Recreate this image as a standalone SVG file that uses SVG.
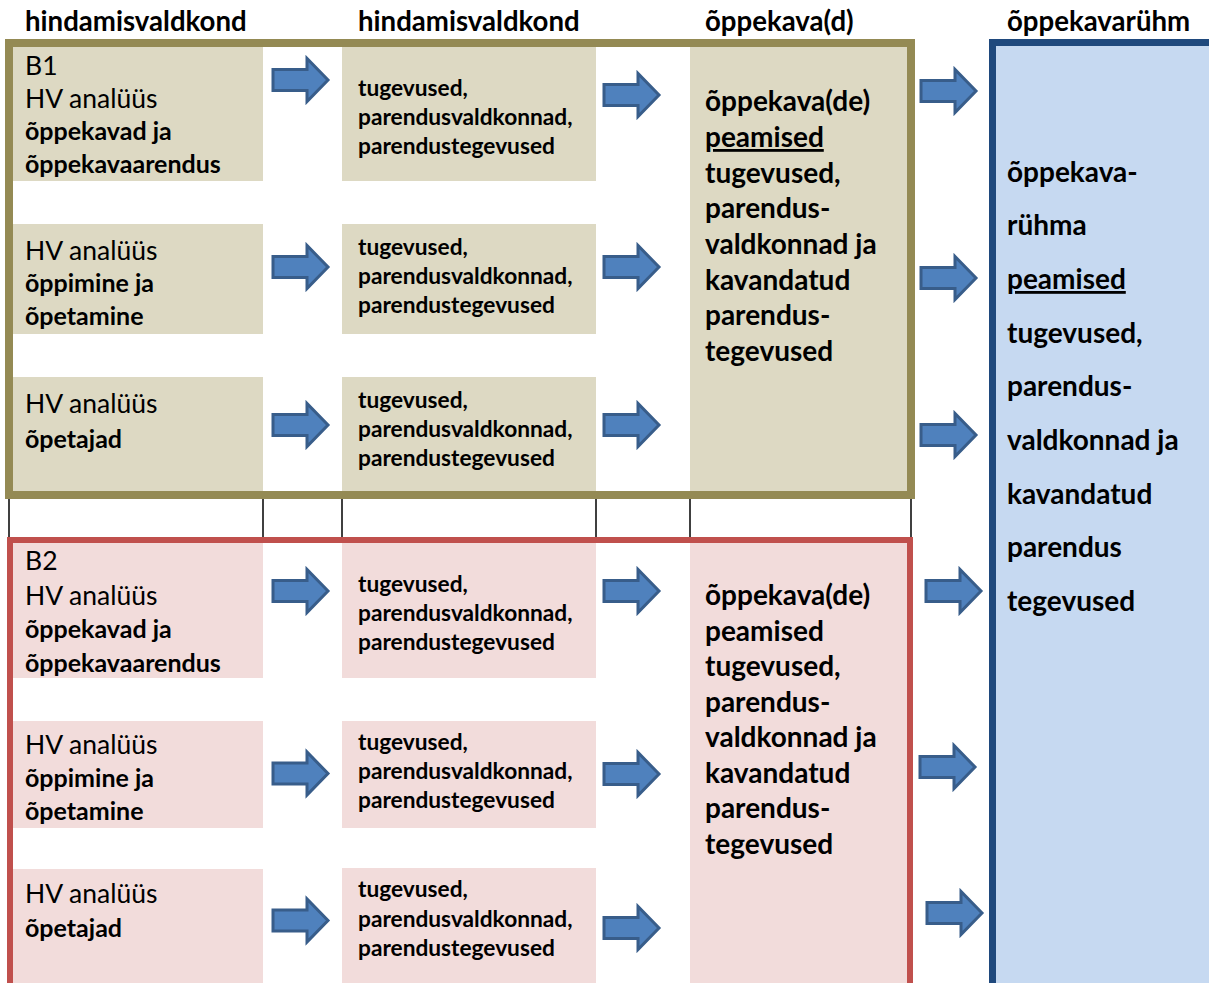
<svg xmlns="http://www.w3.org/2000/svg" xmlns:xlink="http://www.w3.org/1999/xlink" width="1209" height="983" viewBox="0 0 1209 983">
<style>
text{font-family:Lato,"Open Sans","Liberation Sans",sans-serif;fill:#000}
.h{font-size:27.6px;font-weight:700}
.r{font-size:26.5px;font-weight:400}
.b{font-size:25px;font-weight:700}
.s{font-size:22.7px;font-weight:700}
.m{font-size:28px;font-weight:700}
.u{text-decoration:underline}
.of{fill:#DDD9C3}
.rf{fill:#F2DCDB}
.sep{stroke:#000;stroke-width:1.5}
.arr{fill:#4F81BD;stroke:#385D8A;stroke-width:3;stroke-linejoin:miter}
</style>
<defs>
<path id="arrow" class="arr" d="M0,-10.5 H34 V-21.5 L55,0 L34,21.5 V10.5 H0 Z"/>
</defs>
<rect width="1209" height="983" fill="#fff"/>

<g id="headers">
<text class="h" x="25" y="31">hindamisvaldkond</text>
<text class="h" x="358" y="31">hindamisvaldkond</text>
<text class="h" x="705" y="31">õppekava(d)</text>
<text class="h" x="1007" y="31">õppekavarühm</text>
</g>

<g id="group-col4">
<rect x="992.5" y="42.5" width="300" height="1000" fill="#C6D9F1" stroke="#1F497D" stroke-width="7"/>
<text class="m" x="1007" y="181.5">õppekava-</text>
<text class="m" x="1007" y="235">rühma</text>
<text class="m u" x="1007" y="289">peamised</text>
<text class="m" x="1007" y="342.5">tugevused,</text>
<text class="m" x="1007" y="396">parendus-</text>
<text class="m" x="1007" y="450">valdkonnad ja</text>
<text class="m" x="1007" y="503.5">kavandatud</text>
<text class="m" x="1007" y="557">parendus</text>
<text class="m" x="1007" y="610.5">tegevused</text>
</g>

<g id="separators">
<line class="sep" x1="9" y1="499" x2="9" y2="537"/>
<line class="sep" x1="263" y1="499" x2="263" y2="537"/>
<line class="sep" x1="342" y1="499" x2="342" y2="537"/>
<line class="sep" x1="596" y1="499" x2="596" y2="537"/>
<line class="sep" x1="690" y1="499" x2="690" y2="537"/>
<line class="sep" x1="911" y1="499" x2="911" y2="537"/>
</g>

<g id="b1">
<rect x="9" y="43" width="902" height="452" fill="#fff" stroke="#948A54" stroke-width="8"/>
<g id="b1-r1-c1"><rect class="of" x="13" y="47" width="250" height="134"/>
<text class="r" x="25" y="75">B1</text>
<text class="r" x="25" y="107.5">HV analüüs</text>
<text class="b" x="25" y="140">õppekavad ja</text>
<text class="b" x="25" y="172.5">õppekavaarendus</text></g>
<g id="b1-r1-c2"><rect class="of" x="342" y="47" width="254" height="134"/>
<text class="s" x="358" y="96">tugevused,</text>
<text class="s" x="358" y="125">parendusvaldkonnad,</text>
<text class="s" x="358" y="154">parendustegevused</text></g>
<g id="b1-r2-c1"><rect class="of" x="13" y="224" width="250" height="110"/>
<text class="r" x="25" y="260">HV analüüs</text>
<text class="b" x="25" y="292">õppimine ja</text>
<text class="b" x="25" y="325">õpetamine</text></g>
<g id="b1-r2-c2"><rect class="of" x="342" y="224" width="254" height="110"/>
<text class="s" x="358" y="255">tugevused,</text>
<text class="s" x="358" y="284">parendusvaldkonnad,</text>
<text class="s" x="358" y="313">parendustegevused</text></g>
<g id="b1-r3-c1"><rect class="of" x="13" y="377" width="250" height="114"/>
<text class="r" x="25" y="413">HV analüüs</text>
<text class="b" x="25" y="448">õpetajad</text></g>
<g id="b1-r3-c2"><rect class="of" x="342" y="377" width="254" height="114"/>
<text class="s" x="358" y="408">tugevused,</text>
<text class="s" x="358" y="437">parendusvaldkonnad,</text>
<text class="s" x="358" y="466">parendustegevused</text></g>
<g id="b1-c3"><rect class="of" x="690" y="47" width="217" height="444"/>
<text class="m" x="705" y="111">õppekava(de)</text>
<text class="m u" x="705" y="147">peamised</text>
<text class="m" x="705" y="183">tugevused,</text>
<text class="m" x="705" y="218">parendus-</text>
<text class="m" x="705" y="254">valdkonnad ja</text>
<text class="m" x="705" y="290">kavandatud</text>
<text class="m" x="705" y="325">parendus-</text>
<text class="m" x="705" y="361">tegevused</text></g>
</g>

<g id="b2">
<rect x="10" y="540" width="900" height="500" fill="#fff" stroke="#C0504D" stroke-width="6"/>
<g id="b2-r1-c1"><rect class="rf" x="13" y="543" width="250" height="135"/>
<text class="r" x="25" y="570">B2</text>
<text class="r" x="25" y="605">HV analüüs</text>
<text class="b" x="25" y="638">õppekavad ja</text>
<text class="b" x="25" y="672">õppekavaarendus</text></g>
<g id="b2-r1-c2"><rect class="rf" x="342" y="543" width="254" height="135"/>
<text class="s" x="358" y="592">tugevused,</text>
<text class="s" x="358" y="621">parendusvaldkonnad,</text>
<text class="s" x="358" y="650">parendustegevused</text></g>
<g id="b2-r2-c1"><rect class="rf" x="13" y="721" width="250" height="107"/>
<text class="r" x="25" y="754">HV analüüs</text>
<text class="b" x="25" y="787">õppimine ja</text>
<text class="b" x="25" y="820">õpetamine</text></g>
<g id="b2-r2-c2"><rect class="rf" x="342" y="721" width="254" height="107"/>
<text class="s" x="358" y="750">tugevused,</text>
<text class="s" x="358" y="779">parendusvaldkonnad,</text>
<text class="s" x="358" y="808">parendustegevused</text></g>
<g id="b2-r3-c1"><rect class="rf" x="13" y="869" width="250" height="120"/>
<text class="r" x="25" y="903">HV analüüs</text>
<text class="b" x="25" y="937">õpetajad</text></g>
<g id="b2-r3-c2"><rect class="rf" x="342" y="868" width="254" height="120"/>
<text class="s" x="358" y="897">tugevused,</text>
<text class="s" x="358" y="926.5">parendusvaldkonnad,</text>
<text class="s" x="358" y="956">parendustegevused</text></g>
<g id="b2-c3"><rect class="rf" x="690" y="543" width="217" height="445"/>
<text class="m" x="705" y="605">õppekava(de)</text>
<text class="m" x="705" y="640.5">peamised</text>
<text class="m" x="705" y="676">tugevused,</text>
<text class="m" x="705" y="712">parendus-</text>
<text class="m" x="705" y="747">valdkonnad ja</text>
<text class="m" x="705" y="783">kavandatud</text>
<text class="m" x="705" y="818">parendus-</text>
<text class="m" x="705" y="854">tegevused</text></g>
</g>

<g id="connectors">
<use xlink:href="#arrow" transform="translate(273,80)"/>
<use xlink:href="#arrow" transform="translate(273,267)"/>
<use xlink:href="#arrow" transform="translate(273,425)"/>
<use xlink:href="#arrow" transform="translate(273,591)"/>
<use xlink:href="#arrow" transform="translate(273,773.5)"/>
<use xlink:href="#arrow" transform="translate(273,920.5)"/>
<use xlink:href="#arrow" transform="translate(604,95)"/>
<use xlink:href="#arrow" transform="translate(604,267)"/>
<use xlink:href="#arrow" transform="translate(604,425)"/>
<use xlink:href="#arrow" transform="translate(604,591)"/>
<use xlink:href="#arrow" transform="translate(604,774)"/>
<use xlink:href="#arrow" transform="translate(604,928)"/>
<use xlink:href="#arrow" transform="translate(921,91)"/>
<use xlink:href="#arrow" transform="translate(921,278)"/>
<use xlink:href="#arrow" transform="translate(921,435)"/>
<use xlink:href="#arrow" transform="translate(926,591)"/>
<use xlink:href="#arrow" transform="translate(920,767)"/>
<use xlink:href="#arrow" transform="translate(927,913)"/>
</g>
</svg>
